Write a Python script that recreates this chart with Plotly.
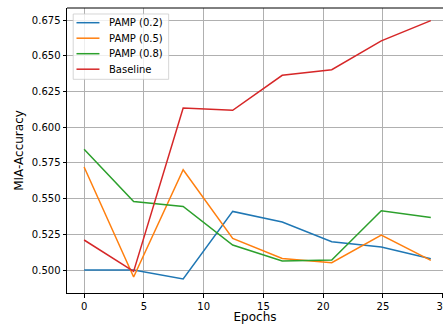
import plotly.graph_objects as go

epochs = [0, 4.1429, 8.2857, 12.4286, 16.5714, 20.7143, 24.8571, 29]
pamp_02 = [0.500, 0.500, 0.4937, 0.5410, 0.5336, 0.5198, 0.5161, 0.5079]
pamp_05 = [0.5721, 0.4951, 0.5702, 0.5221, 0.5081, 0.5051, 0.5245, 0.5067]
pamp_08 = [0.5845, 0.5480, 0.5445, 0.5175, 0.5063, 0.5070, 0.5415, 0.5368]
baseline = [0.5210, 0.4990, 0.6134, 0.6118, 0.6363, 0.6402, 0.6604, 0.6746]
series_names = ["PAMP (0.2)", "PAMP (0.5)", "PAMP (0.8)", "Baseline"]
colors = ["#1f77b4", "#ff7f0e", "#2ca02c", "#d62728"]
y_ticks = [0.500, 0.525, 0.550, 0.575, 0.600, 0.625, 0.650, 0.675]
x_ticks = [0, 5, 10, 15, 20, 25, 30]

W, H = 443, 324
L, R, T, B = 66.5, 0, 8, 31
pw, ph = W - L - R, H - T - B

def px_x(px):
    return (px - L) / pw

def px_y(py):
    return (H - B - py) / ph

fig = go.Figure()
for name, ys, c in zip(series_names, [pamp_02, pamp_05, pamp_08, baseline], colors):
    fig.add_trace(go.Scatter(x=epochs, y=ys, mode="lines", name=name,
                             line=dict(color=c, width=1.5), showlegend=False))

font = dict(family="DejaVu Sans", size=10, color="black")

shapes = []
annotations = []
# top spine
shapes.append(dict(type="line", xref="paper", yref="paper", x0=0, x1=1, y0=1, y1=1,
                   line=dict(color="black", width=1)))
# legend box
shapes.append(dict(type="rect", xref="paper", yref="paper",
                   x0=px_x(72.7), x1=px_x(168.3), y0=px_y(79.3), y1=px_y(14),
                   fillcolor="rgba(255,255,255,0.8)", line=dict(color="rgba(204,204,204,0.8)", width=1)))
row_y = [22.7, 38.2, 53.7, 69.2]
for name, c, ry in zip(series_names, colors, row_y):
    shapes.append(dict(type="line", xref="paper", yref="paper",
                       x0=px_x(76), x1=px_x(99), y0=px_y(ry), y1=px_y(ry),
                       line=dict(color=c, width=1.5)))
    annotations.append(dict(text=name, xref="paper", yref="paper", x=px_x(106.5), y=px_y(ry),
                            xanchor="left", yanchor="middle", showarrow=False, font=font))

fig.update_layout(
    width=W, height=H,
    margin=dict(l=L, r=R, t=T, b=B, autoexpand=False),
    plot_bgcolor="white", paper_bgcolor="white",
    font=font,
    showlegend=False,
    shapes=shapes,
    annotations=annotations,
    xaxis=dict(range=[-1.43, 30.02], tickvals=x_ticks, showgrid=True,
               gridcolor="#b0b0b0", gridwidth=0.8, zeroline=False,
               showline=True, linecolor="black", linewidth=1, mirror=False,
               ticks="outside", ticklen=3.5, tickcolor="black", tickwidth=0.8,
               ticklabeloverflow="allow", automargin=False,
               title=dict(text="Epochs", standoff=7), tickfont=font),
    yaxis=dict(range=[0.4839, 0.6834], tickvals=y_ticks, tickformat=".3f",
               showgrid=True, gridcolor="#b0b0b0", gridwidth=0.8, zeroline=False,
               showline=True, linecolor="black", linewidth=1, mirror=False,
               ticks="outside", ticklen=3.5, tickcolor="black", tickwidth=0.8,
               automargin=False,
               title=dict(text="MIA-Accuracy", standoff=5), tickfont=font),
)
fig.write_html("out.html")
